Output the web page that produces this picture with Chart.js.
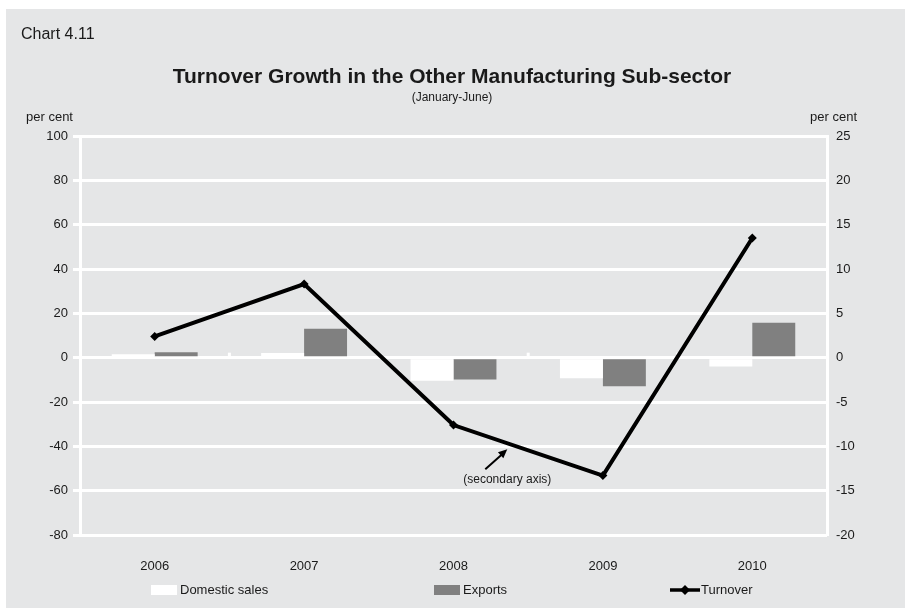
<!DOCTYPE html>
<html><head><meta charset="utf-8">
<script src="https://cdn.jsdelivr.net/npm/chart.js@4.4.0/dist/chart.umd.min.js"></script>
<style>
html,body{margin:0;padding:0;background:#fff;}
canvas{display:block;}
</style></head><body>
<canvas id="c" width="905" height="608"></canvas>
<script>
const categories = ['2006', '2007', '2008', '2009', '2010'];
const domesticSales = [1.5, 2.1, -10.4, -9.3, -4.0];
const exportsGrowth = [2.4, 13.0, -9.9, -12.9, 15.8];
const turnover = [2.4, 8.3, -7.6, -13.3, 13.5];
const leftAxis = { min: -80, max: 100, step: 20 };
const rightAxis = { min: -20, max: 25, step: 5 };
const seriesNames = ['Domestic sales', 'Exports', 'Turnover'];

const FONT = '"Liberation Sans", Arial, Helvetica, sans-serif';
const BG = '#e5e6e7';
const TXT = '#1a1a1a';

const decor = {
  id: 'decor',
  beforeDraw(chart) {
    const ctx = chart.ctx;
    ctx.save();
    ctx.fillStyle = '#ffffff';
    ctx.fillRect(0, 0, chart.width, chart.height);
    ctx.fillStyle = BG;
    ctx.fillRect(6, 9, chart.width - 6, chart.height - 9);
    ctx.restore();
  },
  beforeDatasetsDraw(chart) {
    const ctx = chart.ctx, xs = chart.scales.x, ys = chart.scales.y;
    const y0 = ys.getPixelForValue(0);
    ctx.save();
    ctx.strokeStyle = '#ffffff';
    ctx.lineWidth = 3;
    for (let i = 1; i < categories.length; i++) {
      const x = (xs.getPixelForValue(i - 1) + xs.getPixelForValue(i)) / 2;
      ctx.beginPath();
      ctx.moveTo(x, y0);
      ctx.lineTo(x, y0 - 5);
      ctx.stroke();
    }
    ctx.restore();
  },
  afterDraw(chart) {
    const ctx = chart.ctx;
    const xs = chart.scales.x, y1 = chart.scales.y1;
    ctx.save();
    ctx.fillStyle = TXT;
    ctx.textBaseline = 'middle';
    ctx.textAlign = 'left';
    ctx.font = '16px ' + FONT;
    ctx.fillText('Chart 4.11', 21, 35);
    ctx.textAlign = 'center';
    ctx.font = 'bold 21px ' + FONT;
    ctx.fillText('Turnover Growth in the Other Manufacturing Sub-sector', 452, 77);
    ctx.font = '12px ' + FONT;
    ctx.fillText('(January-June)', 452, 98);
    ctx.font = '13px ' + FONT;
    ctx.textAlign = 'left';
    ctx.fillText('per cent', 26, 117);
    ctx.textAlign = 'right';
    ctx.fillText('per cent', 857, 117);

    // annotation arrow pointing at the turnover line
    const f = 0.36;
    const xa = xs.getPixelForValue(2), xb = xs.getPixelForValue(3);
    const tx = xa + (xb - xa) * f;
    const tv = turnover[2] + (turnover[3] - turnover[2]) * f;
    const ty = y1.getPixelForValue(tv) + 6;
    const sx = tx - 22, sy = ty + 20;
    ctx.strokeStyle = '#000';
    ctx.fillStyle = '#000';
    ctx.lineWidth = 2;
    ctx.beginPath();
    ctx.moveTo(sx, sy);
    ctx.lineTo(tx - 4, ty + 4);
    ctx.stroke();
    const ang = Math.atan2(ty - sy, tx - sx);
    ctx.beginPath();
    ctx.moveTo(tx, ty);
    ctx.lineTo(tx - 9 * Math.cos(ang) + 4 * Math.sin(ang), ty - 9 * Math.sin(ang) - 4 * Math.cos(ang));
    ctx.lineTo(tx - 9 * Math.cos(ang) - 4 * Math.sin(ang), ty - 9 * Math.sin(ang) + 4 * Math.cos(ang));
    ctx.closePath();
    ctx.fill();
    ctx.fillStyle = TXT;
    ctx.textAlign = 'center';
    ctx.font = '12px ' + FONT;
    ctx.fillText('(secondary axis)', tx, sy + 10);

    // legend
    const ly = 590;
    ctx.font = '13px ' + FONT;
    ctx.textAlign = 'left';
    ctx.fillStyle = '#ffffff';
    ctx.fillRect(151, ly - 5, 26, 10);
    ctx.fillStyle = TXT;
    ctx.fillText(seriesNames[0], 180, ly);
    ctx.fillStyle = '#808080';
    ctx.fillRect(434, ly - 5, 26, 10);
    ctx.fillStyle = TXT;
    ctx.fillText(seriesNames[1], 463, ly);
    ctx.strokeStyle = '#000';
    ctx.lineWidth = 3.5;
    ctx.beginPath();
    ctx.moveTo(670, ly);
    ctx.lineTo(700, ly);
    ctx.stroke();
    ctx.fillStyle = '#000';
    ctx.beginPath();
    ctx.moveTo(685, ly - 5);
    ctx.lineTo(690, ly);
    ctx.lineTo(685, ly + 5);
    ctx.lineTo(680, ly);
    ctx.closePath();
    ctx.fill();
    ctx.fillStyle = TXT;
    ctx.fillText(seriesNames[2], 701, ly);
    ctx.restore();
  }
};

new Chart(document.getElementById('c'), {
  data: {
    labels: categories,
    datasets: [
      {
        type: 'line', label: seriesNames[2], data: turnover, yAxisID: 'y1', order: 0,
        borderColor: '#000', borderWidth: 4, pointStyle: 'rectRot', pointRadius: 4.5,
        pointBackgroundColor: '#000', pointBorderColor: '#000', pointBorderWidth: 0,
        tension: 0, fill: false
      },
      {
        type: 'bar', label: seriesNames[0], data: domesticSales, yAxisID: 'y', order: 1,
        backgroundColor: '#ffffff', borderWidth: 0,
        categoryPercentage: 0.575, barPercentage: 1
      },
      {
        type: 'bar', label: seriesNames[1], data: exportsGrowth, yAxisID: 'y', order: 1,
        backgroundColor: '#808080', borderWidth: 0,
        categoryPercentage: 0.575, barPercentage: 1
      }
    ]
  },
  options: {
    responsive: false,
    devicePixelRatio: 1,
    animation: false,
    layout: { padding: { top: 136, left: 0, right: 0, bottom: 0 } },
    plugins: { legend: { display: false }, tooltip: { enabled: false }, title: { display: false } },
    scales: {
      x: {
        position: 'bottom',
        grid: { display: false },
        border: { display: false },
        ticks: { color: TXT, font: { family: FONT, size: 13 }, padding: 16, maxRotation: 0 },
        afterFit(s) { s.height = 73; }
      },
      y: {
        position: 'left',
        min: leftAxis.min, max: leftAxis.max,
        ticks: { stepSize: leftAxis.step, color: TXT, font: { family: FONT, size: 13 }, padding: 5 },
        grid: { color: '#ffffff', lineWidth: 3, tickLength: 7, drawTicks: true },
        border: { display: true, color: '#ffffff', width: 3 },
        afterFit(s) { s.width = 80; }
      },
      y1: {
        position: 'right',
        min: rightAxis.min, max: rightAxis.max,
        ticks: { stepSize: rightAxis.step, color: TXT, font: { family: FONT, size: 13 }, padding: 9 },
        grid: { display: false, drawOnChartArea: false, drawTicks: false, tickLength: 0 },
        border: { display: true, color: '#ffffff', width: 3 },
        afterFit(s) { s.width = 78; }
      }
    }
  },
  plugins: [decor]
});
</script>
</body></html>
